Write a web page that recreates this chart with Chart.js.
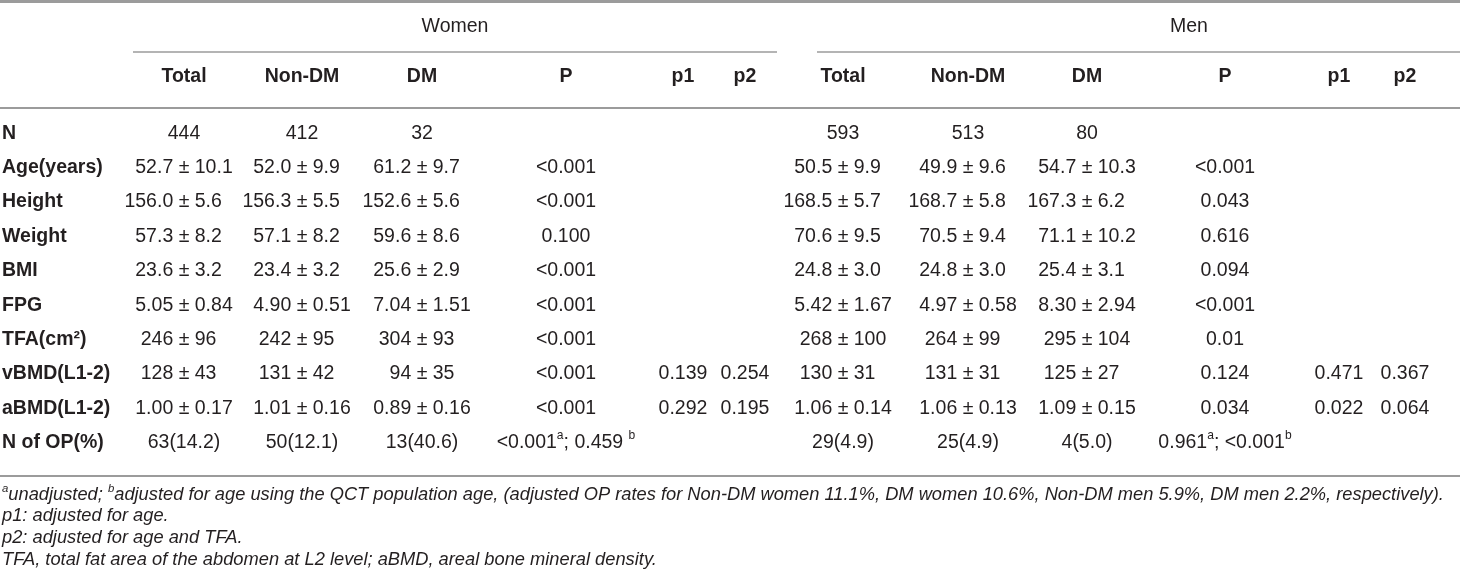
<!DOCTYPE html>
<html><head><meta charset="utf-8">
<script src="https://cdn.jsdelivr.net/npm/chart.js@4.4.1/dist/chart.umd.min.js"></script>
<style>html,body{margin:0;padding:0;background:#fff;}#wrap{width:1460px;height:584px;}</style>
</head><body><div id="wrap"><canvas id="c" width="1460" height="584"></canvas></div>
<script>
// ---------- data ----------
const rowLabels = ['N','Age(years)','Height','Weight','BMI','FPG','TFA(cm²)','vBMD(L1-2)','aBMD(L1-2)','N of OP(%)'];
const groupLabels = ['Women','Men'];
const colHeaders = ['Total','Non-DM','DM','P','p1','p2'];
const womenTotal = ['444','52.7 ± 10.1','156.0 ± 5.6','57.3 ± 8.2','23.6 ± 3.2','5.05 ± 0.84','246 ± 96','128 ± 43','1.00 ± 0.17','63(14.2)'];
const womenNonDM = ['412','52.0 ± 9.9','156.3 ± 5.5','57.1 ± 8.2','23.4 ± 3.2','4.90 ± 0.51','242 ± 95','131 ± 42','1.01 ± 0.16','50(12.1)'];
const womenDM    = ['32','61.2 ± 9.7','152.6 ± 5.6','59.6 ± 8.6','25.6 ± 2.9','7.04 ± 1.51','304 ± 93','94 ± 35','0.89 ± 0.16','13(40.6)'];
const womenP     = ['','<0.001','<0.001','0.100','<0.001','<0.001','<0.001','<0.001','<0.001','<0.001^a; 0.459 ^b'];
const womenP1    = ['','','','','','','','0.139','0.292',''];
const womenP2    = ['','','','','','','','0.254','0.195',''];
const menTotal   = ['593','50.5 ± 9.9','168.5 ± 5.7','70.6 ± 9.5','24.8 ± 3.0','5.42 ± 1.67','268 ± 100','130 ± 31','1.06 ± 0.14','29(4.9)'];
const menNonDM   = ['513','49.9 ± 9.6','168.7 ± 5.8','70.5 ± 9.4','24.8 ± 3.0','4.97 ± 0.58','264 ± 99','131 ± 31','1.06 ± 0.13','25(4.9)'];
const menDM      = ['80','54.7 ± 10.3','167.3 ± 6.2','71.1 ± 10.2','25.4 ± 3.1','8.30 ± 2.94','295 ± 104','125 ± 27','1.09 ± 0.15','4(5.0)'];
const menP       = ['','<0.001','0.043','0.616','0.094','<0.001','0.01','0.124','0.034','0.961^a; <0.001^b'];
const menP1      = ['','','','','','','','0.471','0.022',''];
const menP2      = ['','','','','','','','0.367','0.064',''];
const footnotes = [
  '^aunadjusted; ^badjusted for age using the QCT population age, (adjusted OP rates for Non-DM women 11.1%, DM women 10.6%, Non-DM men 5.9%, DM men 2.2%, respectively).',
  'p1: adjusted for age.',
  'p2: adjusted for age and TFA.',
  'TFA, total fat area of the abdomen at L2 level; aBMD, areal bone mineral density.'
];

// ---------- layout / style ----------
const columns = [womenTotal, womenNonDM, womenDM, womenP, womenP1, womenP2,
                 menTotal, menNonDM, menDM, menP, menP1, menP2];
const COLX = [184, 302, 422, 566, 683, 745, 843, 968, 1087, 1225, 1339, 1405];
const GROUPX = [455, 1189];
const GROUP_LINES = [[133, 777], [817, 1460]];
const FAMILY = '"Liberation Sans", Arial, Helvetica, sans-serif';
const TEXT = '#231f20';
const LINE = '#9b9b9b';
const FS = 19.5;
const FOOT_FS = 18.3;
const Y = { top: 1.5, group: 27, groupLine: 52, head: 77, headLine: 108, bottomLine: 476, foot: [495, 516, 538, 560] };

function parseRich(str) {
  const segs = []; let buf = '';
  for (let i = 0; i < str.length; i++) {
    if (str[i] === '^') { if (buf) segs.push({ t: buf, sup: false }); buf = ''; segs.push({ t: str[i + 1], sup: true }); i++; }
    else buf += str[i];
  }
  if (buf) segs.push({ t: buf, sup: false });
  return segs;
}
function drawRich(ctx, str, x, y, size, weight, style, align) {
  const segs = parseRich(str);
  const fN = `${style} ${weight} ${size}px ${FAMILY}`;
  const fS = `${style} ${weight} ${size * 0.62}px ${FAMILY}`;
  let w = 0;
  segs.forEach(s => { ctx.font = s.sup ? fS : fN; s.w = ctx.measureText(s.t).width; w += s.w; });
  let cx = align === 'center' ? x - w / 2 : x;
  ctx.textAlign = 'left'; ctx.textBaseline = 'middle'; ctx.fillStyle = TEXT;
  segs.forEach(s => {
    ctx.font = s.sup ? fS : fN;
    ctx.fillText(s.t, cx, s.sup ? y - size * 0.36 : y);
    cx += s.w;
  });
}
// mean ± sd cells are aligned on the ± sign, other cells are centred
function drawCell(ctx, str, x, y) {
  const k = str.indexOf('±');
  if (k < 0) { drawRich(ctx, str, x, y, FS, 'normal', 'normal', 'center'); return; }
  ctx.font = `normal normal ${FS}px ${FAMILY}`;
  ctx.fillStyle = TEXT; ctx.textBaseline = 'middle';
  const pw = ctx.measureText('±').width;
  ctx.textAlign = 'center'; ctx.fillText('±', x, y);
  ctx.textAlign = 'right'; ctx.fillText(str.slice(0, k), x - pw / 2, y);
  ctx.textAlign = 'left'; ctx.fillText(str.slice(k + 1), x + pw / 2, y);
}

const tablePlugin = {
  id: 'table',
  beforeDraw(chart) {
    const ctx = chart.ctx; ctx.save(); ctx.fillStyle = '#fff'; ctx.fillRect(0, 0, chart.width, chart.height); ctx.restore();
  },
  afterDatasetsDraw(chart) {
    const ctx = chart.ctx, xs = chart.scales.x;
    ctx.save();
    ctx.strokeStyle = LINE;
    const hline = (y, x0, x1, lw) => { ctx.lineWidth = lw; ctx.beginPath(); ctx.moveTo(x0, y); ctx.lineTo(x1, y); ctx.stroke(); };
    hline(Y.top, 0, chart.width, 3);
    GROUP_LINES.forEach(([a, b]) => hline(Y.groupLine, a, b, 1.6));
    hline(Y.headLine, 0, chart.width, 2);
    hline(Y.bottomLine, 0, chart.width, 2);
    groupLabels.forEach((g, i) => drawRich(ctx, g, GROUPX[i], Y.group, FS, 'normal', 'normal', 'center'));
    COLX.forEach((cx, c) => drawRich(ctx, colHeaders[c % 6], xs.getPixelForValue(cx), Y.head, FS, 'bold', 'normal', 'center'));
    chart.data.datasets.forEach((ds, d) => {
      const meta = chart.getDatasetMeta(d);
      meta.data.forEach((el, i) => drawCell(ctx, ds.data[i].t, el.x, el.y));
    });
    footnotes.forEach((f, i) => drawRich(ctx, f, 2, Y.foot[i], FOOT_FS, 'normal', 'italic', 'left'));
    ctx.restore();
  }
};

const datasets = columns.map((vals, c) => ({
  label: (c < 6 ? 'Women ' : 'Men ') + colHeaders[c % 6],
  data: vals.map((t, i) => ({ x: COLX[c], y: rowLabels[i], t })).filter(p => p.t !== ''),
  pointRadius: 0, pointHoverRadius: 0, showLine: false
}));

new Chart(document.getElementById('c'), {
  type: 'scatter',
  data: { datasets },
  options: {
    responsive: false, animation: false, devicePixelRatio: 1,
    layout: { padding: { left: 2, right: 0, top: 116, bottom: 124 } },
    events: [],
    scales: {
      x: { type: 'linear', display: false, min: 110, max: 1460 },
      y: {
        type: 'category', labels: rowLabels, offset: true, position: 'left',
        grid: { display: false, drawTicks: false }, border: { display: false },
        ticks: { font: { family: FAMILY, size: FS, weight: 'bold' }, color: TEXT, crossAlign: 'far', padding: 0, autoSkip: false },
        afterFit: s => { s.width = 108; }
      }
    },
    plugins: { legend: { display: false }, tooltip: { enabled: false } }
  },
  plugins: [tablePlugin]
});
</script></body></html>
